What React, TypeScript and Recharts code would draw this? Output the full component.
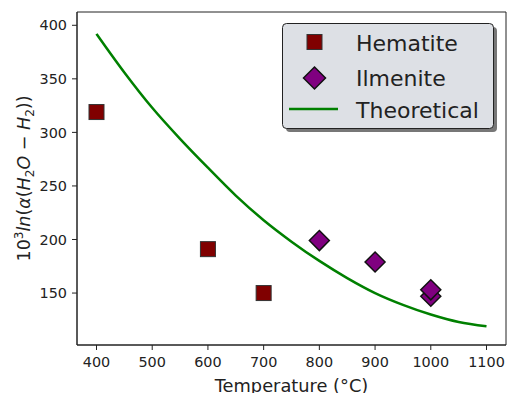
import React from "react";
import {
  ComposedChart, Scatter, Line, XAxis, YAxis, Legend, ReferenceArea,
} from "recharts";

// values
const hematiteTemp = [400, 600, 700];
const hematiteVal = [319, 191, 150];

const ilmeniteTemp = [800, 900, 1000, 1000];
const ilmeniteVal = [199, 179, 147, 153];

const theoryTemp = [400, 450, 500, 550, 600, 650, 700, 750, 800, 850, 900, 950, 1000, 1050, 1100];
const theoryVal = [392, 356, 323, 294, 267, 241, 218, 198, 180, 164, 150, 139, 130, 123, 119];

const xTicks = [400, 500, 600, 700, 800, 900, 1000, 1100];
const yTicks = [150, 200, 250, 300, 350, 400];

const hematite = hematiteTemp.map((x, i) => ({ x, y: hematiteVal[i] }));
const ilmenite = ilmeniteTemp.map((x, i) => ({ x, y: ilmeniteVal[i] }));
const theory = theoryTemp.map((x, i) => ({ x, y: theoryVal[i] }));

const FONT = "DejaVu Sans, sans-serif";
const INK = "#222";
const HEM = "#800000";
const ILM = "#800080";
const GREEN = "#008000";

function SquareMark(props: any) {
  const { cx, cy } = props;
  const s = 15;
  return <rect x={cx - s / 2} y={cy - s / 2} width={s} height={s} fill={HEM} stroke="#333" strokeWidth={1} />;
}

function DiamondMark(props: any) {
  const { cx, cy } = props;
  const r = 10;
  return (
    <polygon
      points={`${cx},${cy - r} ${cx + r},${cy} ${cx},${cy + r} ${cx - r},${cy}`}
      fill={ILM}
      stroke="#111"
      strokeWidth={1.5}
    />
  );
}

function LegendBox() {
  return (
    <svg width={220} height={112} style={{ display: "block" }}>
      <rect x={4} y={4} width={211} height={105} rx={4} fill="#777" />
      <rect x={0.5} y={0.5} width={211} height={105} rx={4} fill="#dde0e5" stroke={INK} strokeWidth={1} />
      <rect x={32.5 - 7.5} y={19 - 7.5} width={15} height={15} fill={HEM} stroke="#333" />
      <polygon points="32.5,44 43.5,55 32.5,66 21.5,55" fill={ILM} stroke="#111" strokeWidth={1.5} />
      <line x1={7} x2={56} y1={86} y2={86} stroke={GREEN} strokeWidth={2.5} />
      <g fontFamily={FONT} fontSize={22} fill={INK}>
        <text x={74} y={28}>Hematite</text>
        <text x={74} y={62.5}>Ilmenite</text>
        <text x={74} y={94.5}>Theoretical</text>
      </g>
    </svg>
  );
}

function YLabel(props: any) {
  const vb = props.viewBox || { x: 0, y: 12, width: 77, height: 333 };
  const cx = 30;
  const cy = vb.y + vb.height / 2;
  return (
    <text
      x={cx}
      y={cy}
      transform={`rotate(-90, ${cx}, ${cy})`}
      textAnchor="middle"
      fontFamily={FONT}
      fontSize={17.5}
      fill={INK}
    >
      <tspan>10</tspan>
      <tspan fontSize={12} dy={-7}>3</tspan>
      <tspan fontStyle="italic" dy={7}>ln</tspan>
      <tspan>(</tspan>
      <tspan fontStyle="italic">α</tspan>
      <tspan>(</tspan>
      <tspan fontStyle="italic">H</tspan>
      <tspan fontSize={12} dy={4}>2</tspan>
      <tspan fontStyle="italic" dy={-4}>O</tspan>
      <tspan> − </tspan>
      <tspan fontStyle="italic">H</tspan>
      <tspan fontSize={12} dy={4}>2</tspan>
      <tspan dy={-4}>))</tspan>
    </text>
  );
}

export default function App() {
  return (
    <div style={{ position: "absolute", left: 0, top: 0, width: 507, height: 393, background: "#fff" }}>
      <ComposedChart width={507} height={393} margin={{ top: 12, right: 1, left: 0, bottom: 0 }}>
        <XAxis
          dataKey="x"
          type="number"
          domain={[365, 1135]}
          ticks={xTicks}
          allowDataOverflow
          height={48}
          tickSize={5}
          tickMargin={7}
          tick={{ fontSize: 14.4, fill: INK, fontFamily: FONT }}
          stroke={INK}
          tickLine={{ stroke: INK }}
          label={{
            value: "Temperature (°C)",
            position: "insideBottom",
            offset: 0,
            dy: -1,
            style: { fontSize: 17.8, fill: INK, fontFamily: FONT },
          }}
        />
        <YAxis
          dataKey="y"
          type="number"
          domain={[101.5, 412.4]}
          ticks={yTicks}
          allowDataOverflow
          width={77}
          tickSize={5}
          tickMargin={5}
          tick={{ fontSize: 14.4, fill: INK, fontFamily: FONT }}
          stroke={INK}
          tickLine={{ stroke: INK }}
          label={<YLabel />}
        />
        <ReferenceArea x1={365} x2={1135} y1={101.5} y2={412.4} fill="none" stroke={INK} strokeWidth={1} />
        <Line
          data={theory}
          dataKey="y"
          type="monotone"
          stroke={GREEN}
          strokeWidth={2.5}
          dot={false}
          isAnimationActive={false}
          name="Theoretical"
        />
        <Scatter data={hematite} dataKey="y" shape={SquareMark} isAnimationActive={false} name="Hematite" />
        <Scatter data={ilmenite} dataKey="y" shape={DiamondMark} isAnimationActive={false} name="Ilmenite" />
        <Legend
          layout="vertical"
          align="center"
          verticalAlign="middle"
          wrapperStyle={{ position: "absolute", left: 282, top: 23, width: 220, height: 112 }}
          content={() => <LegendBox />}
        />
      </ComposedChart>
    </div>
  );
}
